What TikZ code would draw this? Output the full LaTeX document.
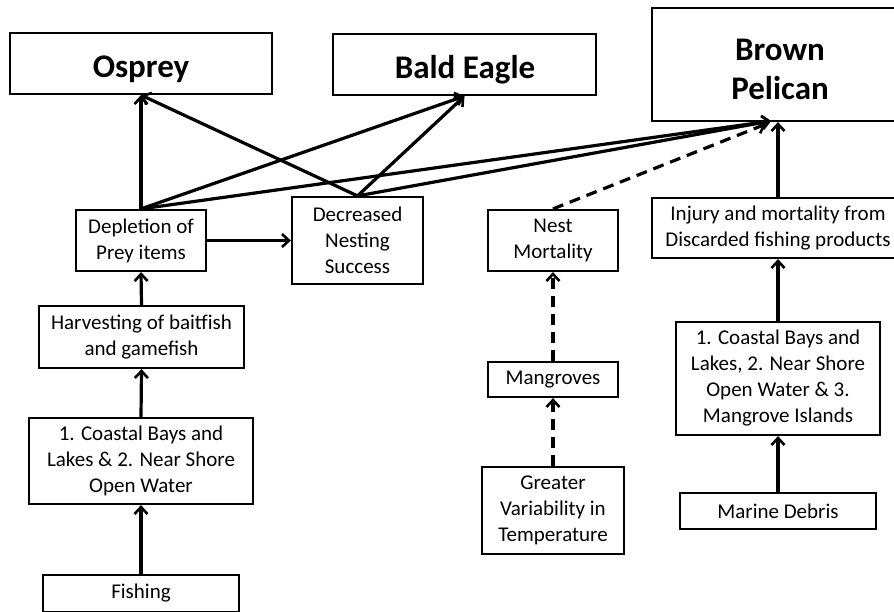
\documentclass[tikz,border=0pt]{standalone}
\usepackage{fontspec}
\setmainfont{Carlito}
\usetikzlibrary{arrows.meta}
\begin{document}
\begin{tikzpicture}[x=1pt,y=-1pt,
  box/.style={draw, line width=2.2pt, inner sep=0pt, align=center, font=\fontsize{21}{26}\selectfont},
  bigbox/.style={draw, line width=2.2pt, inner sep=0pt, align=center},
  title/.style={font=\fontsize{33}{40}\selectfont\bfseries, anchor=base},
  conn/.style={line width=3.2pt, -{Straight Barb[length=7pt,width=13pt,line width=2.6pt]}},
  dconn/.style={conn, dash pattern=on 11pt off 7pt}]
\useasboundingbox (0,0) rectangle (894,611);
\clip (0,0) rectangle (894,611);
\fill[white] (0,0) rectangle (894,611);
% top species boxes
\node[bigbox, minimum width=262pt, minimum height=61pt] (osp) at (141,63.5) {};
\node[bigbox, minimum width=263pt, minimum height=61pt] (eag) at (464.5,64.5) {};
\node[bigbox, minimum width=252pt, minimum height=113pt] (pel) at (778,64.5) {};
\node[title] (ospt) at (141,77) {Osprey};
\node[title] (eagt) at (465,78) {Bald Eagle};
\node[title] (pelt1) at (780,60) {Brown};
\node[title] (pelt2) at (780,99) {Pelican};
% middle row
\node[box, minimum width=130pt, minimum height=61pt] (dep) at (141,240.5) {Depletion of\\Prey items};
\node[box, minimum width=131pt, minimum height=87pt] (dec) at (357.5,240.5) {Decreased\\Nesting\\Success};
\node[box, minimum width=130pt, minimum height=61pt] (nest) at (553,240.5) {Nest\\Mortality};
\node[box, minimum width=252pt, minimum height=60pt] (inj) at (778,228) {Injury and mortality from\\Discarded fishing products};
% lower left chain
\node[box, minimum width=205pt, minimum height=62pt] (harv) at (141.5,337) {Harvesting of baitfish\\and gamefish};
\node[box, minimum width=224pt, minimum height=86pt] (cl) at (141,461) {1. Coastal Bays and\\Lakes \& 2. Near Shore\\Open Water};
\node[box, minimum width=196pt, minimum height=37pt] (fish) at (141,593.5) {Fishing};
% middle chain
\node[box, minimum width=130pt, minimum height=35pt] (mang) at (553,379.5) {Mangroves};
\node[box, minimum width=142pt, minimum height=87pt] (temp) at (553,510.5) {Greater\\Variability in\\Temperature};
% right chain
\node[box, minimum width=204pt, minimum height=113pt] (cr) at (778,378.5) {1. Coastal Bays and\\Lakes, 2. Near Shore\\Open Water \& 3.\\Mangrove Islands};
\node[box, minimum width=196pt, minimum height=36pt] (deb) at (778,511) {Marine Debris};
% target points
\coordinate (pelin) at (771,121);
\coordinate (peld) at (766,124);
% connectors
\draw[conn] (dep.north) -- (osp.south);
\draw[conn] (dec.north) -- (osp.south);
\draw[conn] (dep.north) -- (eag.south);
\draw[conn] (dec.north) -- (eag.south);
\draw[conn] (dep.north) -- (pelin);
\draw[conn] (dec.north) -- (pelin);
\draw[dconn] (nest.north) -- (peld);
\draw[conn] (inj.north) -- (pel.south);
\draw[conn] (dep.east) -- (dec.west);
\draw[conn] (harv.north) -- (dep.south);
\draw[conn] (cl.north) -- (harv.south);
\draw[conn] (fish.north) -- (cl.south);
\draw[dconn] (mang.north) -- (nest.south);
\draw[dconn] (temp.north) -- (mang.south);
\draw[conn] (cr.north) -- (inj.south);
\draw[conn] (deb.north) -- (cr.south);
\end{tikzpicture}
\end{document}
